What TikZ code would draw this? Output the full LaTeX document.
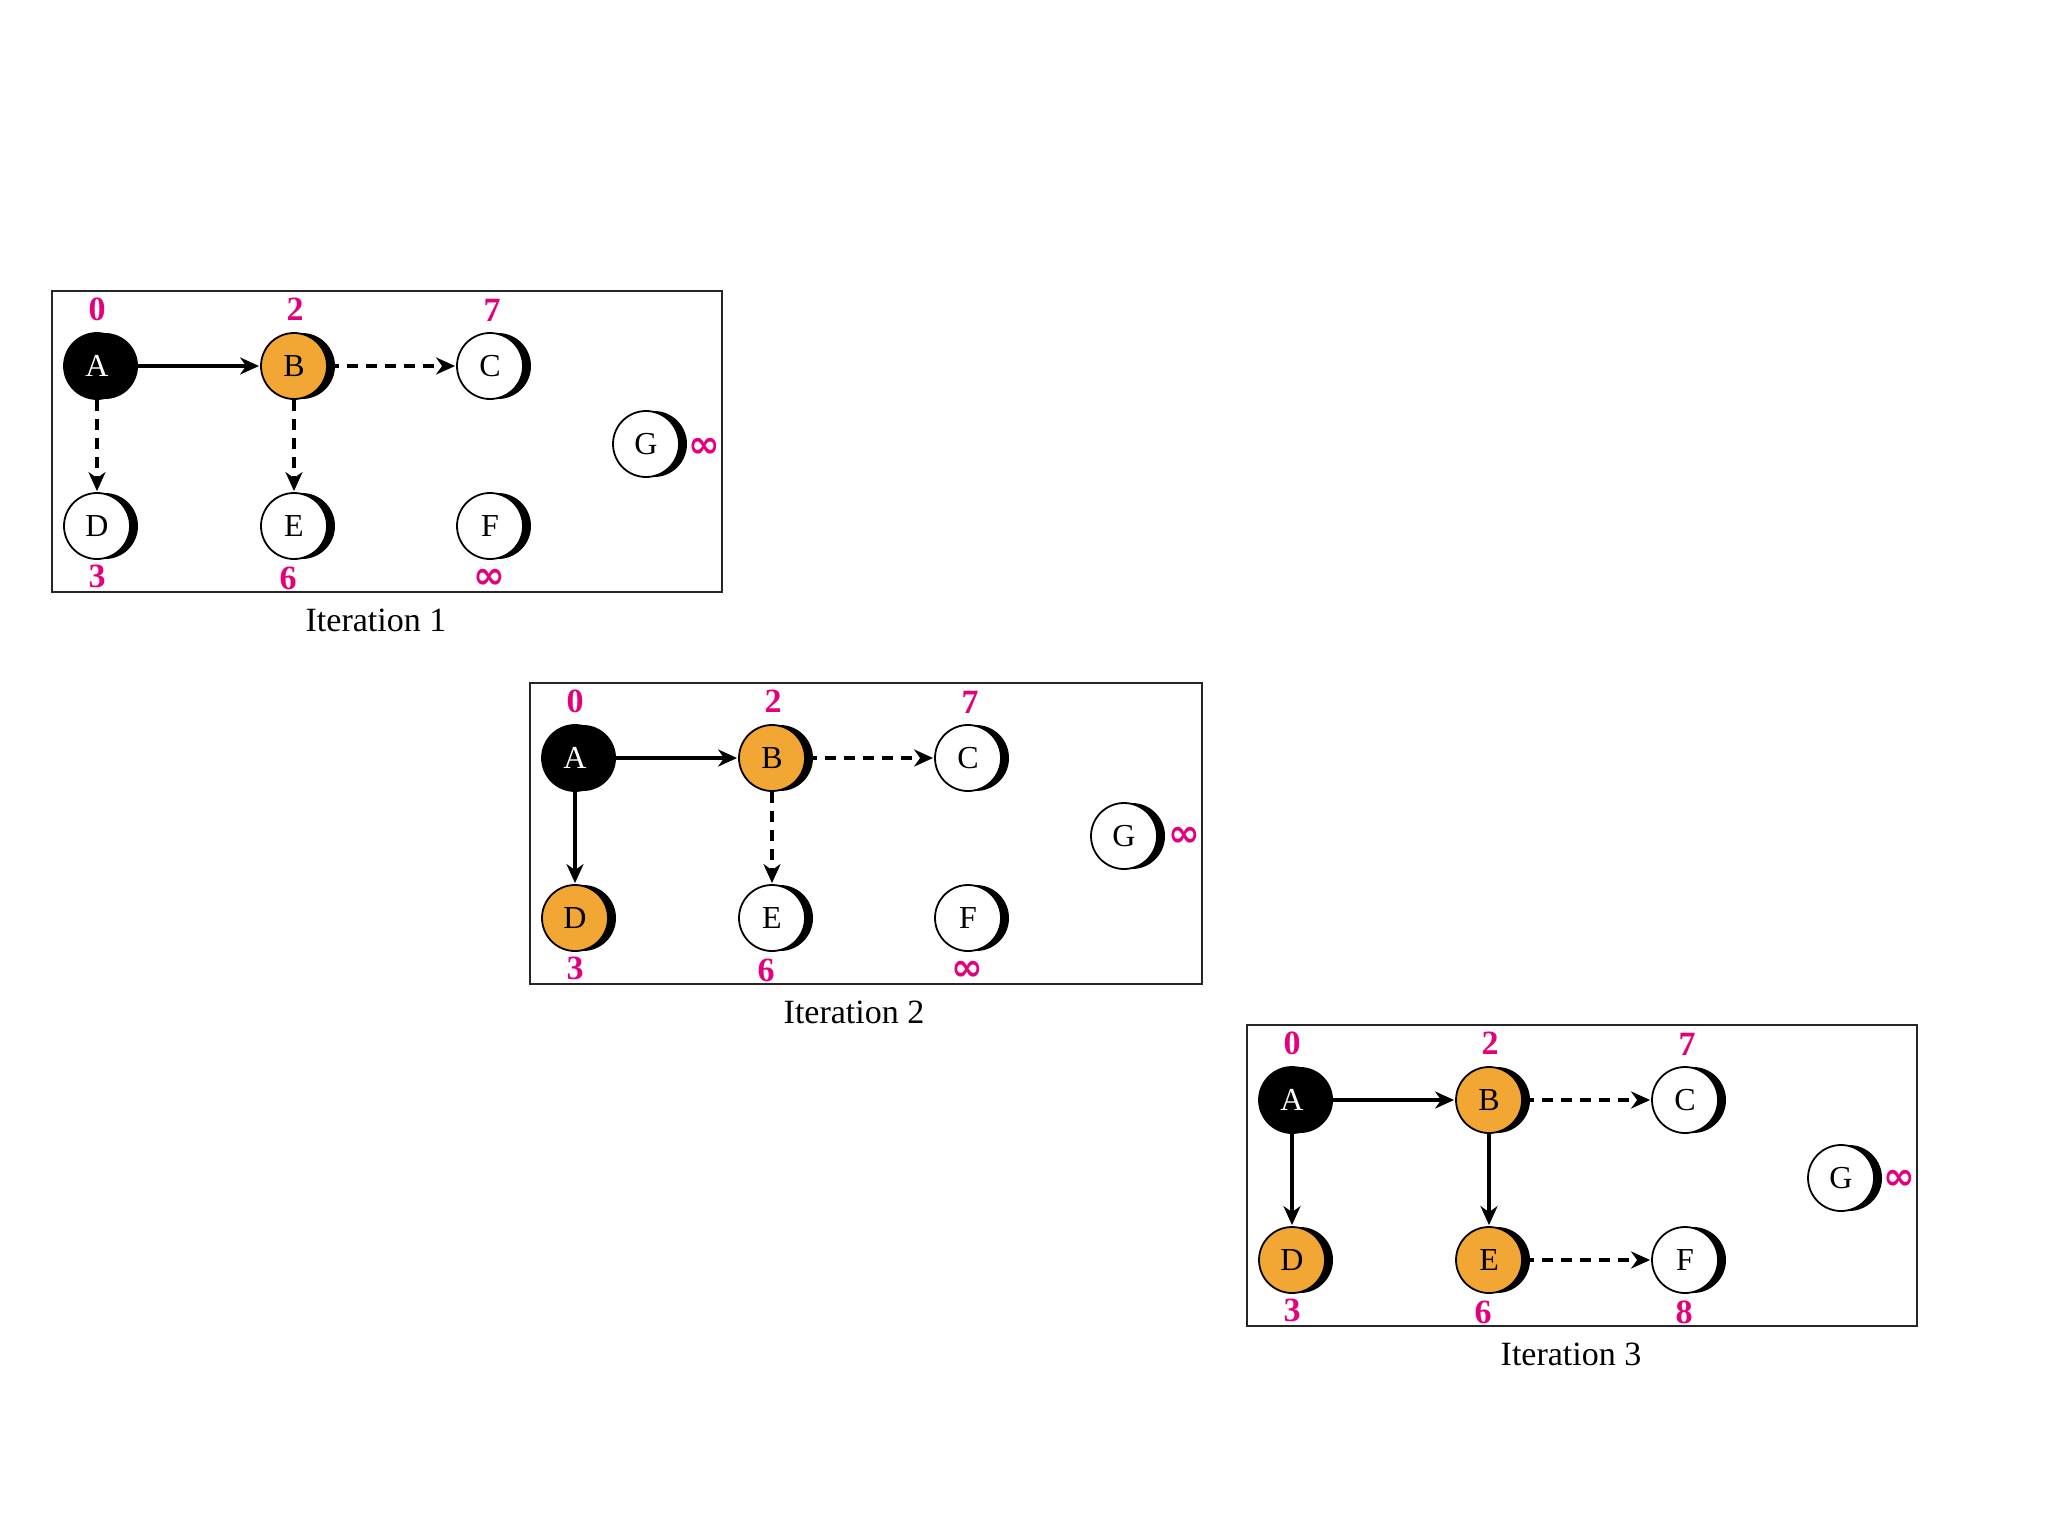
\documentclass[tikz,border=0pt]{standalone}
\usepackage{fontspec}
\setmainfont{Liberation Serif}
\newfontfamily\infsym{DejaVu Sans}
\usetikzlibrary{shadows,arrows.meta}
\definecolor{mag}{RGB}{228,0,124}
\definecolor{orng}{RGB}{242,166,52}
\newcommand{\infval}{{\infsym\bfseries\fontsize{19}{19}\selectfont ∞}}
\tikzset{
  vtx/.style={circle,draw=black,line width=0.9pt,fill=white,minimum size=33pt,inner sep=0pt,
    font=\fontsize{16}{16}\selectfont,
    drop shadow={shadow xshift=4pt,shadow yshift=0pt,opacity=1,fill=black}},
  srcv/.style={vtx,fill=black,text=white},
  donev/.style={vtx,fill=orng},
  dist/.style={text=mag,font=\bfseries\fontsize{17}{17}\selectfont,inner sep=0pt},
  treeedge/.style={-{Stealth[length=9.5pt,width=8.5pt,inset=3pt]},line width=1.9pt,shorten >=0.5pt},
  candedge/.style={treeedge,dash pattern=on 5.5pt off 4pt},
  frame/.style={draw=black!85,line width=1.1pt},
  capt/.style={font=\fontsize{17}{17}\selectfont,inner sep=0pt}
}
\begin{document}
\begin{tikzpicture}[x=0.5pt,y=-0.5pt]
\useasboundingbox (0,0) rectangle (2048,1536);
\fill[white] (0,0) rectangle (2048,1536);

% ---------- Iteration 1 ----------
\begin{scope}
\draw[frame] (52,291) rectangle (722,592);
\node[srcv] (a1) at (97,366) {A};
\node[donev] (b1) at (294,366) {B};
\node[vtx] (c1) at (490,366) {C};
\node[vtx] (d1) at (97,526) {D};
\node[vtx] (e1) at (294,526) {E};
\node[vtx] (f1) at (490,526) {F};
\node[vtx] (g1) at (646,444) {G};
\node[dist] (la1) at (97,309) {0};
\node[dist] (lb1) at (295,309) {2};
\node[dist] (lc1) at (492,310) {7};
\node[dist] (ld1) at (97,576) {3};
\node[dist] (le1) at (288,578) {6};
\node[dist] (lf1) at (489,579) {\infval};
\node[dist] (lg1) at (704,448) {\infval};
\draw[treeedge] (a1) -- (b1);
\draw[candedge] (b1) -- (c1);
\draw[candedge] (a1) -- (d1);
\draw[candedge] (b1) -- (e1);
\node[capt] (t1) at (376,620) {Iteration 1};
\end{scope}

% ---------- Iteration 2 ----------
\begin{scope}[shift={(478,392)}]
\draw[frame] (52,291) rectangle (724,592);
\node[srcv] (a2) at (97,366) {A};
\node[donev] (b2) at (294,366) {B};
\node[vtx] (c2) at (490,366) {C};
\node[donev] (d2) at (97,526) {D};
\node[vtx] (e2) at (294,526) {E};
\node[vtx] (f2) at (490,526) {F};
\node[vtx] (g2) at (646,444) {G};
\node[dist] (la2) at (97,309) {0};
\node[dist] (lb2) at (295,309) {2};
\node[dist] (lc2) at (492,310) {7};
\node[dist] (ld2) at (97,576) {3};
\node[dist] (le2) at (288,578) {6};
\node[dist] (lf2) at (489,579) {\infval};
\node[dist] (lg2) at (706,445) {\infval};
\draw[treeedge] (a2) -- (b2);
\draw[candedge] (b2) -- (c2);
\draw[treeedge] (a2) -- (d2);
\draw[candedge] (b2) -- (e2);
\node[capt] (t2) at (376,620) {Iteration 2};
\end{scope}

% ---------- Iteration 3 ----------
\begin{scope}[shift={(1195,734)}]
\draw[frame] (52,291) rectangle (722,592);
\node[srcv] (a3) at (97,366) {A};
\node[donev] (b3) at (294,366) {B};
\node[vtx] (c3) at (490,366) {C};
\node[donev] (d3) at (97,526) {D};
\node[donev] (e3) at (294,526) {E};
\node[vtx] (f3) at (490,526) {F};
\node[vtx] (g3) at (646,444) {G};
\node[dist] (la3) at (97,309) {0};
\node[dist] (lb3) at (295,309) {2};
\node[dist] (lc3) at (492,310) {7};
\node[dist] (ld3) at (97,576) {3};
\node[dist] (le3) at (288,578) {6};
\node[dist] (lf3) at (489,578) {8};
\node[dist] (lg3) at (704,446) {\infval};
\draw[treeedge] (a3) -- (b3);
\draw[candedge] (b3) -- (c3);
\draw[treeedge] (a3) -- (d3);
\draw[treeedge] (b3) -- (e3);
\draw[candedge] (e3) -- (f3);
\node[capt] (t3) at (376,620) {Iteration 3};
\end{scope}
\end{tikzpicture}
\end{document}
